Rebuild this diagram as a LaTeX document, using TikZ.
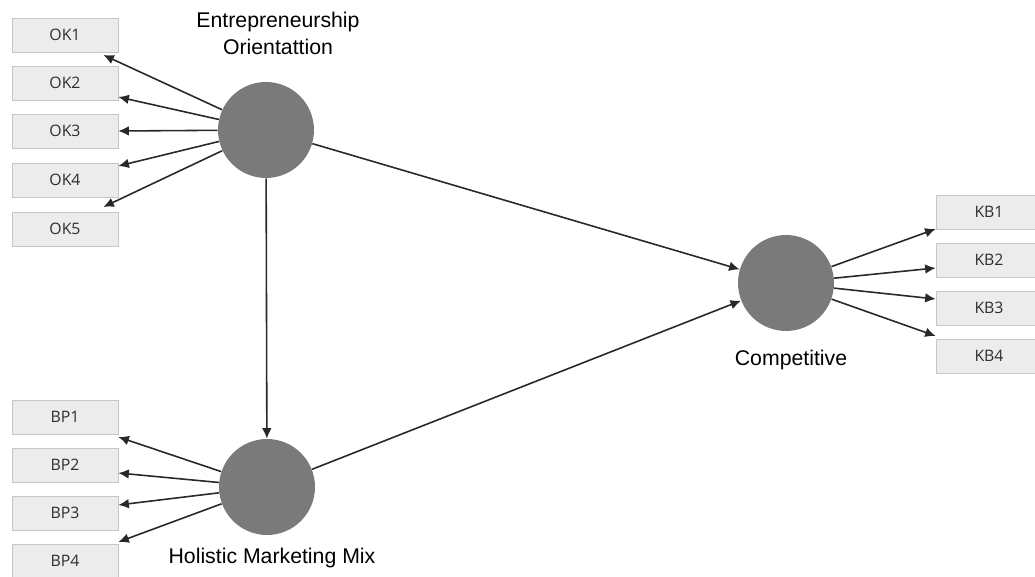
\documentclass[tikz,border=0pt]{standalone}
\usepackage{fontspec}
\setmainfont{Liberation Sans}
\newfontfamily\indfont{Open Sans}
\usetikzlibrary{arrows.meta,calc}
\definecolor{latent}{RGB}{122,122,122}
\definecolor{indfill}{RGB}{236,236,236}
\definecolor{indline}{RGB}{198,198,198}
\definecolor{pathcol}{RGB}{40,40,40}
\begin{document}
\begin{tikzpicture}[x=0.02cm,y=-0.02cm,
    ind/.style={draw=indline,fill=indfill,minimum width=2.12cm,minimum height=0.68cm,
        inner sep=0pt,font=\indfont\fontsize{9}{10}\selectfont,text=black!82},
    lv/.style={circle,fill=latent,minimum size=1.92cm,inner sep=0pt},
    lbl/.style={align=center,font=\fontsize{12.1}{15.3}\selectfont},
    arr/.style={draw=pathcol,line width=0.9pt,-{Latex[length=6pt,width=5.5pt]}}]
    \clip (0,0) rectangle (1035,577);
    \fill[white] (0,0) rectangle (1035,577);
    \node[lv] (eo) at (266,130) {};
    \node[lv] (hm) at (267,487) {};
    \node[lv] (cp) at (786,283) {};
    \node[lbl] (eol) at (278,33) {Entrepreneurship\\Orientattion};
    \node[lbl] (hml) at (272,558) {Holistic Marketing Mix};
    \node[lbl] (cpl) at (791,360) {Competitive};
    \foreach \i/\y in {1/35,2/83,3/131,4/180,5/229}
        \node[ind] (ok\i) at (65,\y) {OK\i};
    \foreach \i/\y in {1/417,2/465,3/513,4/561}
        \node[ind] (bp\i) at (65,\y) {BP\i};
    \foreach \i/\y in {1/212,2/260,3/308,4/356}
        \node[ind] (kb\i) at (989,\y) {KB\i};
    \foreach \i/\dx/\dy in {1/-15/20,2/0/14,3/0/0,4/0/-14,5/-15/-22}
        \draw[arr] (eo) -- ($(ok\i.east)+(\dx,\dy)$);
    \foreach \i/\dy in {1/20,2/8,3/-8,4/-19}
        \draw[arr] (hm) -- ($(bp\i.east)+(0,\dy)$);
    \foreach \i/\dy in {1/17,2/8,3/-9,4/-20}
        \draw[arr] (cp) -- ($(kb\i.west)+(0,\dy)$);
    \draw[arr] (eo) -- (hm);
    \draw[arr] (eo) -- (cp);
    \draw[arr] (hm) -- (cp);
\end{tikzpicture}
\end{document}
